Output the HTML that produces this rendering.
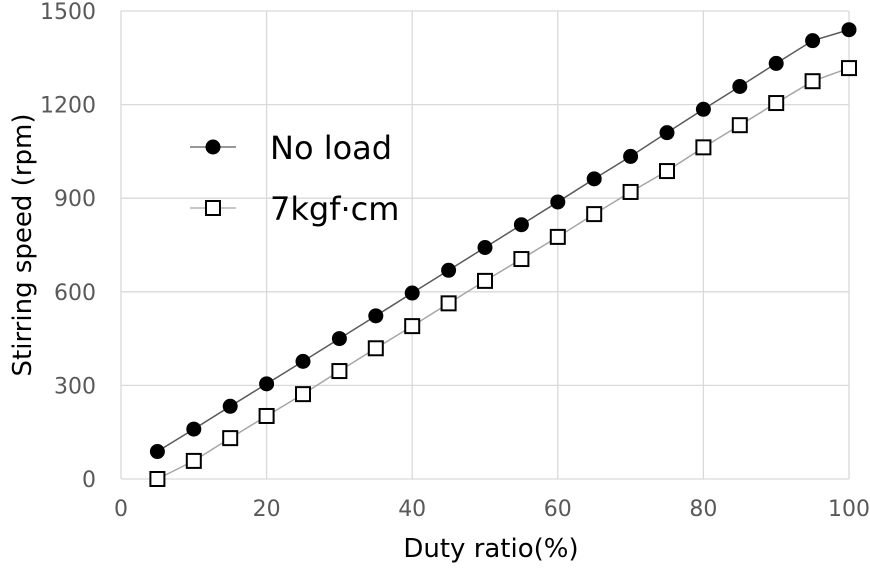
<!DOCTYPE html>
<html><head><meta charset="utf-8"><style>
html,body{margin:0;padding:0;background:#fff;}
svg text{font-family:"DejaVu Sans","Liberation Sans",sans-serif;}
</style></head><body>
<svg id="s" width="870" height="564" xmlns="http://www.w3.org/2000/svg">
<g id="grid" stroke="#d9d9d9" stroke-width="1.3" fill="none"></g>
<g id="tk" font-size="22" fill="#595959"></g>
<text x="491" y="557" font-size="26" text-anchor="middle" fill="#000">Duty ratio(%)</text>
<text transform="translate(31,245) rotate(-90)" font-size="26" text-anchor="middle" fill="#000">Stirring speed (rpm)</text>
<g id="ser"></g>
<line x1="190" y1="147" x2="236" y2="147" stroke="#595959" stroke-width="1.3"/>
<circle cx="213" cy="147" r="7.5" fill="#000"/>
<line x1="190" y1="208" x2="236" y2="208" stroke="#a6a6a6" stroke-width="1.3"/>
<rect x="206" y="201" width="14" height="14" fill="#fff" stroke="#000" stroke-width="2"/>
<text x="270" y="159" font-size="32" fill="#000">No load</text>
<text x="270" y="220" font-size="32" fill="#000">7kgf·cm</text>
</svg>
<script>
var ns="http://www.w3.org/2000/svg";
function X(v){return 121+v*7.28;}
function Y(v){return 479-v*(468/1500);}
function el(t,a,p){var e=document.createElementNS(ns,t);for(var k in a)e.setAttribute(k,a[k]);if(p)document.getElementById(p).appendChild(e);return e;}
for(var i=0;i<=5;i++){var x=X(i*20);el('line',{x1:x,y1:11,x2:x,y2:479},'grid');
var t=el('text',{x:x,y:516,'text-anchor':'middle'},'tk');t.textContent=i*20;}
for(var j=0;j<=5;j++){var y=Y(j*300);el('line',{x1:121,y1:y,x2:849,y2:y},'grid');
var t=el('text',{x:96,y:y+8,'text-anchor':'end'},'tk');t.textContent=j*300;}
var a=[88,160,233,305,377,450,523,596,669,742,815,888,962,1034,1110,1185,1258,1332,1405,1440];
var b=[0,58,131,202,272,346,419,490,563,635,705,776,849,920,987,1063,1134,1205,1275,1317];
function pts(d){return d.map(function(v,i){return X(5+5*i)+','+Y(v);}).join(' ');}
el('polyline',{points:pts(b),fill:'none',stroke:'#a6a6a6','stroke-width':1.5},'ser');
el('polyline',{points:pts(a),fill:'none',stroke:'#595959','stroke-width':1.5},'ser');
a.forEach(function(v,i){el('circle',{cx:X(5+5*i),cy:Y(v),r:7.5,fill:'#000'},'ser');});
b.forEach(function(v,i){el('rect',{x:X(5+5*i)-7,y:Y(v)-7,width:14,height:14,fill:'#fff',stroke:'#000','stroke-width':2},'ser');});
</script>
</body></html>
